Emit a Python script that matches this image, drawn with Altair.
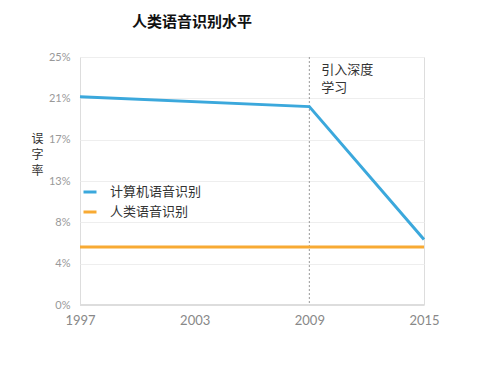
import altair as alt
import pandas as pd

years = [1997, 2009, 2015]
computer_err = [21.0, 20.0, 6.6]
human_years = [1997, 2015]
human_err = [5.85, 5.85]
series_names = ["计算机语音识别", "人类语音识别"]
series_colors = ["#3BA8DC", "#F8AA33"]
y_ticks = [0, 25/6, 50/6, 75/6, 100/6, 125/6, 25]
x_ticks = [1997, 2003, 2009, 2015]
event_year = [2009]
event_label = ["引入深度\n学习"]
event_y = [24.3]

rows = []
for yr, v in zip(years, computer_err):
    rows.append({"year": yr, "err": v, "series": series_names[0]})
for yr, v in zip(human_years, human_err):
    rows.append({"year": yr, "err": v, "series": series_names[1]})
df = pd.DataFrame(rows)

ev = pd.DataFrame({"year": event_year, "label": event_label, "err": event_y})

cjk = "Noto Sans CJK SC"
tickfont = "Lato"

xscale = alt.Scale(domain=[1997, 2015], nice=False, zero=False)
yscale = alt.Scale(domain=[0, 25], nice=False)

lines = alt.Chart(df).mark_line(strokeWidth=3).encode(
    x=alt.X("year:Q", scale=xscale,
            axis=alt.Axis(values=x_ticks, format="d", title=None, grid=False,
                          domain=False, ticks=False, labelFont=tickfont,
                          labelFlush=False,
                          labelFontSize=13, labelColor="#888", labelPadding=9)),
    y=alt.Y("err:Q", scale=yscale,
            axis=alt.Axis(values=y_ticks, labelExpr="round(datum.value) + '%'",
                          title=["误", "字", "率"], titleAngle=0, titleFont=cjk,
                          titleFontSize=12, titleFontWeight="normal", titleColor="#333",
                          titleX=-43, titleY=76, titleAlign="center", titleBaseline="top",
                          titleLineHeight=16,
                          grid=True, gridColor="#eeeeee", gridWidth=1,
                          domain=False, ticks=False, labelFont=tickfont,
                          labelFontSize=11, labelColor="#999", labelPadding=10)),
    color=alt.Color("series:N",
                    scale=alt.Scale(domain=series_names, range=series_colors),
                    sort=series_names,
                    legend=alt.Legend(title=None, orient="none", legendX=2, legendY=127,
                                      symbolType="stroke", symbolSize=169,
                                      symbolStrokeWidth=3, labelFont=cjk,
                                      labelFontSize=13, labelColor="#333",
                                      labelOffset=12, rowPadding=5, padding=0)),
)

base_rule = alt.Chart(pd.DataFrame({"err": [0]})).mark_rule(
    color="#dddddd", strokeWidth=2).encode(y=alt.Y("err:Q", scale=yscale))

vrule = alt.Chart(ev).mark_rule(color="#999", strokeDash=[2, 2], strokeWidth=1).encode(
    x=alt.X("year:Q", scale=xscale))

ann = alt.Chart(ev).mark_text(align="left", baseline="top", dx=12, font=cjk,
                              fontSize=13, color="#333", lineBreak="\n",
                              lineHeight=18).encode(
    x=alt.X("year:Q", scale=xscale), y=alt.Y("err:Q", scale=yscale), text="label:N")

chart = alt.layer(base_rule, vrule, lines, ann).properties(
    width=344, height=248,
    title=alt.TitleParams("人类语音识别水平"),
    autosize=alt.AutoSizeParams(type="none"),
    padding={"left": 72, "top": 49, "right": 63, "bottom": 64},
).configure_view(stroke=None).configure(background="white").configure_title(
    anchor="middle", dx=-60, offset=21, font=cjk, fontSize=15, fontWeight="bold",
    color="#111")

chart.save("out.html", embed_options={"renderer": "svg", "actions": False})
